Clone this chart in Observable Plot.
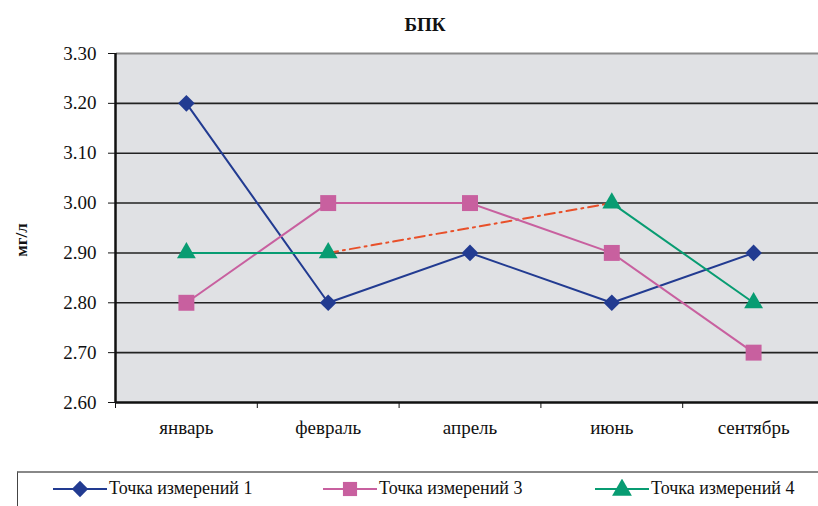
<!DOCTYPE html>
<html><head><meta charset="utf-8">
<script src="https://cdn.jsdelivr.net/npm/d3@7"></script>
<script src="https://cdn.jsdelivr.net/npm/@observablehq/plot@0.6"></script>
<style>
html,body{margin:0;padding:0;background:#fff;overflow:hidden}
#wrap{position:relative;width:818px;height:506px;overflow:hidden;font-family:"Times New Roman","Liberation Serif",Times,"DejaVu Serif","Noto Serif",serif}
#wrap svg text{font-family:"Times New Roman","Liberation Serif",Times,"DejaVu Serif","Noto Serif",serif !important}
#title{position:absolute;left:0;width:850px;top:14px;text-align:center;font-weight:bold;font-size:19px;color:#111}
#ylab{position:absolute;left:22px;top:240px;transform:translate(-50%,-50%) rotate(-90deg);font-weight:bold;font-size:17px;color:#111;white-space:nowrap}
#chart{position:absolute;left:0;top:0}
#legend{position:absolute;left:17px;top:471px;width:830px;height:60px;border-top:2px solid #888;border-left:1px solid #444;box-sizing:border-box}
.item{position:absolute;top:5px;display:flex;align-items:center;font-size:18px;color:#111;white-space:nowrap}
.item svg{margin-right:2px}
</style></head>
<body><div id="wrap"><div id="chart"></div><div id="title">БПК</div><div id="ylab">мг/л</div><div id="legend"></div></div>
<script>
const months = ["январь","февраль","апрель","июнь","сентябрь"];
const yTicks = [2.6,2.7,2.8,2.9,3.0,3.1,3.2,3.3];
const seriesNames = ["Точка измерений 1","Точка измерений 3","Точка измерений 4"];
const s1 = [3.20, 2.80, 2.90, 2.80, 2.90];
const s3 = [2.80, 3.00, 3.00, 2.90, 2.70];
const s4 = [2.90, 2.90, null, 3.00, 2.80];
const colors = ["#223b91","#c8609f","#089c72"];
const gapColor = "#e8502a";
const symbols = ["diamond2","square","triangle"];
const radii = [7.5, 9, 7];

const all = [s1,s3,s4];
const rows = [];
all.forEach((s,k)=>s.forEach((v,i)=>rows.push({series:seriesNames[k], i, v})));

// gap connector for series 4 (between defined points that bracket missing values)
const gap = [];
const idx = s4.map((v,i)=>v!=null?i:null).filter(i=>i!=null);
for(let j=1;j<idx.length;j++){ if(idx[j]-idx[j-1]>1){ gap.push({i:idx[j-1],v:s4[idx[j-1]]},{i:idx[j],v:s4[idx[j]]}); } }

const FONT = "'Times New Roman','Liberation Serif',Times,'DejaVu Serif',serif";
const H = 470;
const plot = Plot.plot({
  width: 818, height: H,
  marginLeft:116, marginTop:53, marginBottom:H-402, marginRight:0,
  style:{fontFamily:FONT, fontSize:"19px", color:"#111", background:"transparent"},
  x:{type:"linear", domain:[-0.5,4.5], range:[115,824]},
  y:{type:"linear", domain:[2.6,3.3], range:[402,53]},
  marks:[
    Plot.rect([0],{x1:-0.5,x2:4.5,y1:2.6,y2:3.3,fill:"#e0e1e4"}),
    Plot.ruleY(yTicks.filter(t=>t>2.6 && t<3.3),{stroke:"#222",strokeWidth:1.6}),
    Plot.ruleY([3.3],{stroke:"#8a8a8a",strokeWidth:2}),
    Plot.axisY({ticks:yTicks, tickFormat:d=>d.toFixed(2), tickSize:8, tickPadding:12, tickStrokeWidth:1.5, label:null, fontSize:19}),
    Plot.axisX({ticks:[-0.5,0.5,1.5,2.5,3.5,4.5], tickFormat:()=>"", tickSize:6, tickStrokeWidth:1.5, label:null}),
    Plot.axisX({ticks:[0,1,2,3,4], tickFormat:i=>months[i], tickSize:0, tickPadding:18, label:null, fontSize:19}),
    Plot.ruleX([-0.5],{y1:2.6,y2:3.3,stroke:"#111",strokeWidth:2.5}),
    Plot.ruleY([2.6],{stroke:"#111",strokeWidth:2.5}),
    Plot.line(gap,{x:"i",y:"v",stroke:gapColor,strokeWidth:2,strokeDasharray:"10,5,2,5"}),
    Plot.line(rows,{x:"i",y:"v",z:"series",stroke:"series",strokeWidth:2}),
    ...seriesNames.map((n,k)=>Plot.dot(rows.filter(d=>d.series===n && d.v!=null),{x:"i",y:"v",fill:colors[k],symbol:symbols[k],r:radii[k],stroke:null}))
  ],
  color:{domain:seriesNames, range:colors}
});
document.getElementById("chart").appendChild(plot);

// legend
const lg = document.getElementById("legend");
const lx = [35, 305, 577];
seriesNames.forEach((n,k)=>{
  const it = document.createElement("div");
  it.className="item"; it.style.left = lx[k]+"px";
  const sym = d3.symbol(k===0?d3.symbolDiamond2:k===1?d3.symbolSquare:d3.symbolTriangle, k===1?200:170)();
  it.innerHTML = `<svg width="54" height="20"><line x1="0" x2="54" y1="10" y2="10" stroke="${colors[k]}" stroke-width="2"/><path transform="translate(27,${k===2?11:10})" d="${sym}" fill="${colors[k]}"/></svg><span>${n}</span>`;
  lg.appendChild(it);
});
</script></body></html>
